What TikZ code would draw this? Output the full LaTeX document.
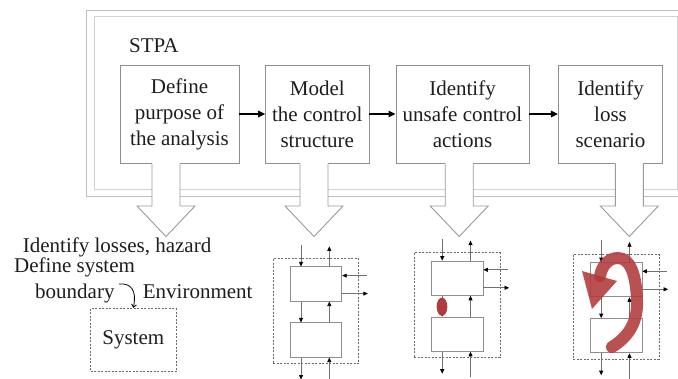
\documentclass[tikz,border=0pt]{standalone}
\usepackage{fontspec}
\setmainfont{Liberation Serif}
\usetikzlibrary{arrows.meta,shapes.geometric}

\definecolor{txt}{HTML}{1E1E1E}
\definecolor{frameout}{HTML}{BEBEBE}
\definecolor{framein}{HTML}{D2D2D2}
\definecolor{boxgray}{HTML}{8E8E8E}
\definecolor{hollowgray}{HTML}{9A9A9A}
\definecolor{dashgray}{HTML}{6A6A6A}
\definecolor{thingray}{HTML}{707070}
\definecolor{redc}{HTML}{B03A3C}

\tikzset{
  every node/.style={font=\fontsize{21}{26}\selectfont, text=txt},
  stepbox/.style={draw=boxgray, line width=0.9pt, fill=white, align=center,
                  minimum height=98pt, inner sep=0pt},
  lbl/.style={anchor=base west, inner sep=0pt},
  flow/.style={line width=1.4pt, -{Triangle[length=7pt,width=6.5pt]}},
  hollow/.style={draw=hollowgray, line width=0.9pt},
  dbox/.style={draw=dashgray, dash pattern=on 2pt off 1.5pt, line width=0.8pt,
               minimum width=85.5pt, minimum height=105pt, inner sep=0pt},
  cbox/.style={draw=boxgray, line width=0.8pt, fill=white,
               minimum width=51.5pt, minimum height=34.3pt, inner sep=0pt},
  sarr/.style={draw=thingray, line width=0.7pt,
               -{Triangle[length=4.5pt,width=4pt,color=black]}},
}

\begin{document}
\begin{tikzpicture}[x=1pt,y=-1pt]
\useasboundingbox (0,0) rectangle (678,378);

% double frame of the STPA process
\draw[frameout, line width=1pt] (690,10.7) -- (86,10.7) -- (86,196.7) -- (690,196.7);
\draw[framein, line width=0.9pt] (94.3,16.7) rectangle (677,189);

\node[lbl] (stpa) at (129,52) {STPA};

% the four steps
\node[stepbox, minimum width=119pt]   (b1) at (179.5,114) {Define\\purpose of\\the analysis};
\node[stepbox, minimum width=103.3pt] (b2) at (317.3,114) {Model\\the control\\structure};
\node[stepbox, minimum width=133pt]   (b3) at (462.5,114) {Identify\\unsafe control\\actions};
\node[stepbox, minimum width=104.4pt] (b4) at (610.5,114) {Identify\\loss\\scenario};

\draw[flow] (b1.east) -- (b2.west);
\draw[flow] (b2.east) -- (b3.west);
\draw[flow] (b3.east) -- (b4.west);

% hollow arrows from each step to its result
\foreach \cx in {166, 314, 459.2, 629.3} {
  \fill[white] (\cx-14,163) -- (\cx-14,206) -- (\cx-29,206) -- (\cx,236.5)
               -- (\cx+29,206) -- (\cx+14,206) -- (\cx+14,163) -- cycle;
  \draw[hollow] (\cx-14,163.5) -- (\cx-14,206) -- (\cx-29,206) -- (\cx,236.5)
               -- (\cx+29,206) -- (\cx+14,206) -- (\cx+14,163.5);
}

% step 1 result: losses, hazards and the system boundary
\node[lbl] (loss) at (22.7,252.7) {Identify losses, hazard};
\node[lbl] (defs) at (14,272.7) {Define system};
\node[lbl] (bnd)  at (35,298) {boundary};
\node[lbl] (env)  at (142.7,298) {Environment};
\node[draw=dashgray, dash pattern=on 2pt off 1.5pt, line width=0.8pt,
      minimum width=85.3pt, minimum height=63.4pt, inner sep=0pt] (sys) at (133.3,340) {System};
\coordinate (hk) at (119,284);
\draw[line width=0.8pt, -{Straight Barb[length=3pt,width=5pt]}]
  (hk) .. controls (131,283) and (137,290) .. (sys.north);

% control structures for steps 2 to 4
\foreach \n/\cx/\cy in {2/316/311, 3/457.2/305.2, 4/616.2/306.7} {
  \node[dbox] (d\n) at (\cx,\cy) {};
  \node[cbox] (u\n) at (\cx,\cy-27) {};
  \node[cbox] (l\n) at (\cx,\cy+29) {};
  \coordinate (it\n) at (\cx-15,\cy-66.3);
  \coordinate (ot\n) at (\cx+13.3,\cy-64.6);
  \coordinate (ir\n) at (\cx+50.8,\cy-35.4);
  \coordinate (or\n) at (\cx+51.9,\cy-17.4);
  \coordinate (ob\n) at (\cx-15,\cy+68.5);
  \coordinate (ib\n) at (\cx+13.3,\cy+72);
  \draw[sarr] (it\n) -- (it\n |- u\n.north);
  \draw[sarr] (ot\n |- u\n.north) -- (ot\n);
  \draw[sarr] (ir\n) -- (ir\n -| u\n.east);
  \draw[sarr] (or\n -| u\n.east) -- (or\n);
  \draw[sarr] (it\n |- u\n.south) -- (it\n |- l\n.north);
  \draw[sarr] (ot\n |- l\n.north) -- (ot\n |- u\n.south);
  \draw[sarr] (it\n |- l\n.south) -- (ob\n);
  \draw[sarr] (ib\n) -- (ib\n |- l\n.south);
}

% unsafe control action marker
\node[ellipse, fill=redc, minimum width=10.7pt, minimum height=18.3pt, inner sep=0pt]
  (uca) at (442,306.7) {};

% loss scenario loop
\draw[redc, opacity=0.88, line width=12pt, line cap=round]
  (612,347) .. controls (630,336) and (638,320) .. (637,300)
            .. controls (636,274) and (630,258) .. (618,258)
            .. controls (608,258) and (602,266) .. (600,276);
\fill[redc, opacity=0.88] (582,271) -- (617,281) -- (592,309) -- cycle;
\end{tikzpicture}
\end{document}
